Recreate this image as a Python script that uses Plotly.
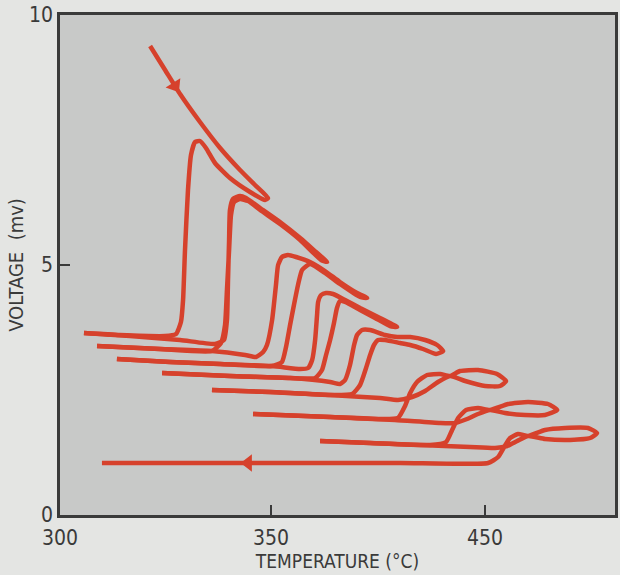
import plotly.graph_objects as go

# Each run: (temperature °C, voltage mV)
run0_t = [293.5, 300.5, 307.5, 316.8, 326.2, 335.5, 342.5, 348.6, 347.2, 340.2, 330.8, 323.8, 319.6, 316.8,
          314.5, 312.6, 311.2, 309.8, 308.9, 307.9, 305.6, 300.5, 279.4, 262.6]
run0_v = [9.38, 8.90, 8.42, 7.86, 7.34, 6.90, 6.60, 6.34, 6.30, 6.46, 6.74, 7.04, 7.34, 7.48,
          7.46, 7.20, 6.50, 5.30, 4.30, 3.86, 3.62, 3.58, 3.60, 3.64]

run1_t = [262.6, 284.1, 307.5, 323.8, 328.0, 329.4, 329.9, 330.4, 330.8, 332.2, 335.5, 338.3, 344.9, 354.2,
          363.6, 371.0, 376.2, 373.4, 363.6, 354.2, 344.9, 339.3, 335.5, 332.7, 331.3, 330.4, 329.4, 328.5,
          326.6, 322.4, 298.1, 268.7]
run1_v = [3.64, 3.58, 3.50, 3.42, 3.50, 3.90, 4.70, 5.50, 6.10, 6.32, 6.38, 6.34, 6.14, 5.86,
          5.54, 5.26, 5.06, 5.10, 5.50, 5.82, 6.10, 6.28, 6.32, 6.26, 6.00, 5.30, 4.50, 3.80,
          3.44, 3.28, 3.32, 3.38]

run2_t = [268.7, 298.1, 322.4, 337.9, 343.0, 346.3, 348.1, 350.5, 352.3, 353.3, 355.1, 357.9, 361.7, 368.2,
          375.2, 382.2, 390.2, 394.9, 391.6, 382.2, 375.2, 368.2, 364.5, 362.6, 360.7, 358.9, 357.0, 355.1,
          350.5, 326.2, 302.8, 278.0]
run2_v = [3.38, 3.32, 3.28, 3.20, 3.16, 3.26, 3.40, 3.90, 4.60, 5.00, 5.16, 5.20, 5.16, 5.06,
          4.88, 4.66, 4.44, 4.34, 4.36, 4.62, 4.84, 5.02, 4.90, 4.60, 4.20, 3.80, 3.36, 3.06,
          2.98, 3.02, 3.06, 3.12]

run3_t = [278.0, 302.8, 326.2, 350.5, 363.6, 367.3, 369.2, 370.6, 371.5, 372.0, 373.4, 375.7, 379.0, 384.6,
          391.6, 400.9, 408.9, 405.6, 398.6, 391.6, 384.6, 382.2, 380.8, 379.4, 377.6, 375.7, 373.8, 370.6,
          358.9, 330.8, 299.1]
run3_v = [3.12, 3.06, 3.02, 2.98, 2.92, 2.94, 3.10, 3.50, 4.00, 4.26, 4.40, 4.44, 4.42, 4.30,
          4.14, 3.94, 3.76, 3.78, 3.94, 4.10, 4.26, 4.28, 4.14, 3.84, 3.50, 3.20, 2.90, 2.74,
          2.74, 2.78, 2.84]

run4_t = [299.1, 330.8, 358.9, 377.6, 382.2, 384.6, 386.9, 388.8, 390.2, 392.5, 396.3, 403.3, 408.9, 415.0,
          422.0, 427.6, 430.4, 427.1, 421.0, 415.0, 410.3, 403.3, 400.0, 398.1, 396.3, 394.4, 391.6, 387.9,
          377.6, 349.5, 322.4]
run4_v = [2.84, 2.78, 2.74, 2.66, 2.62, 2.70, 3.00, 3.40, 3.60, 3.70, 3.70, 3.60, 3.56, 3.56,
          3.50, 3.40, 3.28, 3.22, 3.32, 3.40, 3.44, 3.50, 3.50, 3.40, 3.20, 2.94, 2.60, 2.42,
          2.40, 2.46, 2.50]

run5_t = [322.4, 349.5, 377.6, 400.9, 409.3, 415.9, 422.0, 428.0, 433.6, 440.7, 450.0, 457.0, 459.8, 455.6,
          446.7, 438.3, 433.6, 429.0, 422.9, 418.2, 415.0, 412.6, 409.3, 400.9, 377.6, 341.6]
run5_v = [2.50, 2.46, 2.40, 2.34, 2.30, 2.36, 2.48, 2.66, 2.78, 2.68, 2.58, 2.58, 2.68, 2.82,
          2.90, 2.88, 2.78, 2.82, 2.80, 2.66, 2.44, 2.18, 1.94, 1.92, 1.96, 2.02]

run6_t = [341.6, 377.6, 407.9, 429.0, 436.0, 441.6, 446.7, 452.3, 459.3, 468.7, 478.0, 483.7, 479.4, 470.1,
          460.8, 452.3, 446.7, 441.1, 437.4, 434.6, 431.8, 424.3, 396.3, 372.9]
run6_v = [2.02, 1.96, 1.90, 1.84, 1.84, 1.92, 2.02, 2.10, 2.04, 2.00, 2.00, 2.10, 2.22, 2.26,
          2.22, 2.10, 2.14, 2.10, 1.94, 1.70, 1.46, 1.40, 1.44, 1.48]

run7_t = [372.9, 396.3, 419.6, 443.0, 454.7, 460.3, 465.0, 470.1, 478.0, 489.7, 499.1, 502.3, 498.1, 487.4,
          478.0, 470.1, 465.4, 461.7, 458.9, 456.1, 451.4, 410.3, 340.2, 271.0]
run7_v = [1.48, 1.44, 1.40, 1.36, 1.34, 1.38, 1.48, 1.58, 1.52, 1.50, 1.54, 1.64, 1.74, 1.74,
          1.70, 1.58, 1.62, 1.54, 1.36, 1.16, 1.04, 1.04, 1.04, 1.04]

runs_t = [run0_t, run1_t, run2_t, run3_t, run4_t, run5_t, run6_t, run7_t]
runs_v = [run0_v, run1_v, run2_v, run3_v, run4_v, run5_v, run6_v, run7_v]

# direction arrows (temperature, voltage)
arrow_t = [305.1, 339.3]
arrow_v = [8.58, 1.04]
arrow_symbol = ["triangle-down", "triangle-left"]
arrow_angle = [-32, 0]

x_tickvals = [251.4, 350, 450]
x_ticktext = ["300", "350", "450"]
y_tickvals = [0, 5, 10]
y_ticktext = ["0", "5", "10"]

RED = "#d6412c"
INK = "#3a3a3a"
PAPER = "#e4e5e3"
FONT = "DejaVu Sans Condensed, Liberation Sans Narrow, DejaVu Sans, sans-serif"

fig = go.Figure()
for t, v in zip(runs_t, runs_v):
    fig.add_trace(go.Scatter(x=t, y=v, mode="lines",
                             line=dict(color=RED, width=4.5, shape="spline", smoothing=0.5),
                             hoverinfo="skip", showlegend=False))
fig.add_trace(go.Scatter(x=arrow_t, y=arrow_v, mode="markers",
                         marker=dict(symbol=arrow_symbol, angle=arrow_angle, size=15, color=RED),
                         hoverinfo="skip", showlegend=False))

tick_font = dict(family=FONT, size=21, color=INK)
fig.update_layout(
    width=620, height=575,
    margin=dict(l=60, r=5, t=15, b=60),
    paper_bgcolor=PAPER,
    plot_bgcolor="#c8c9c8",
    xaxis=dict(range=[251.4, 510.7], tickvals=x_tickvals, ticktext=x_ticktext,
               ticks="inside", ticklen=10, tickwidth=2, tickcolor=INK,
               showline=True, linecolor=INK, linewidth=2.5, mirror=True, automargin=False,
               showgrid=False, zeroline=False, tickfont=tick_font, ticklabelstandoff=2,
               title=dict(text="TEMPERATURE (°C)", font=dict(family=FONT, size=19, color=INK),
                          standoff=5)),
    yaxis=dict(range=[0, 10], tickvals=y_tickvals, ticktext=y_ticktext,
               ticks="inside", ticklen=10, tickwidth=2, tickcolor=INK,
               showline=True, linecolor=INK, linewidth=2.5, mirror=True, automargin=False,
               showgrid=False, zeroline=False, tickfont=tick_font,
               title=dict(text="VOLTAGE  (mv)", font=dict(family=FONT, size=20, color=INK),
                          standoff=1)),
)
fig.write_html("out.html", config={"displayModeBar": False},
               post_script="document.body.style.margin='0';document.body.style.background='%s';" % PAPER)
